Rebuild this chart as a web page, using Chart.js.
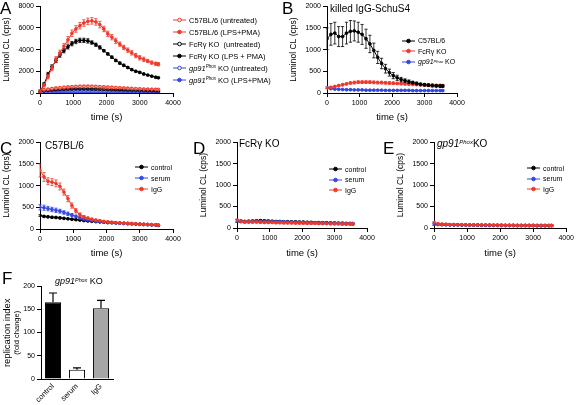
<!DOCTYPE html>
<html>
<head>
<meta charset="utf-8">
<script src="https://cdn.jsdelivr.net/npm/chart.js@4.4.1/dist/chart.umd.min.js"></script>
<style>
body { margin: 0; background: #fff; }
#wrap { position: relative; width: 576px; height: 405px; overflow: hidden; font-family: "Liberation Sans", Arial, sans-serif; color: #000; }
canvas { position: absolute; }
.txt { position: absolute; white-space: nowrap; line-height: 1; }
.letter { font-size: 17px; }
.rot { transform: rotate(-90deg); width: 100px; text-align: center; }
.lg { position: absolute; height: 10px; display: flex; align-items: center; white-space: nowrap; }
.lg svg { margin-right: 3px; }
.sup { font-size: 0.6em; font-style: italic; position: relative; top: -0.45em; }
</style>
</head>
<body>
<div id="wrap">
  <canvas id="chartA" width="185" height="125" style="left:0;top:0"></canvas>
  <canvas id="chartB" width="180" height="125" style="left:287px;top:0"></canvas>
  <canvas id="chartC" width="185" height="125" style="left:0;top:136px"></canvas>
  <canvas id="chartD" width="183" height="125" style="left:197px;top:136px"></canvas>
  <canvas id="chartE" width="182" height="125" style="left:394px;top:136px"></canvas>
  <canvas id="chartF" width="120" height="129" style="left:0;top:276px"></canvas>

  <div class="txt letter" style="left:0;top:0">A</div>
  <div class="txt letter" style="left:282px;top:0">B</div>
  <div class="txt letter" style="left:0;top:140px">C</div>
  <div class="txt letter" style="left:193px;top:140px">D</div>
  <div class="txt letter" style="left:383px;top:140px">E</div>
  <div class="txt letter" style="left:2px;top:270px">F</div>

  <div class="txt" style="left:330px;top:4px;font-size:10px">killed IgG-SchuS4</div>
  <div class="txt" style="left:45px;top:141px;font-size:10px">C57BL/6</div>
  <div class="txt" style="left:239px;top:139px;font-size:10px">FcRγ KO</div>
  <div class="txt" style="left:437px;top:139px;font-size:10px"><i>gp91</i><span class="sup">Phox</span>KO</div>
  <div class="txt" style="left:55px;top:277px;font-size:9px"><i>gp91</i><span class="sup">Phox</span> KO</div>

  <div class="txt rot" style="left:-43px;top:328px;font-size:9.5px">replication index</div>
  <div class="txt rot" style="left:-33px;top:329px;font-size:7.5px">(fold change)</div>
</div>

<script>
// time points (s)
var times = [0,120,240,360,480,600,720,840,960,1080,1200,1320,1440,1560,1680,1800,1920,2040,2160,2280,2400,2520,2640,2760,2880,3000,3120,3240,3360,3480,3560];

// panel A
var aC57Lps    = [100,700,1500,2300,3100,3700,4300,4900,5500,5900,6200,6450,6600,6650,6550,6300,5900,5450,5150,4800,4500,4200,3950,3700,3450,3250,3100,2950,2800,2700,2650];
var aC57LpsErr = [50,150,200,250,250,250,250,300,300,300,300,300,300,300,300,300,250,250,250,250,200,200,200,200,200,200,200,150,150,150,150];
var aFcLps     = [100,800,1700,2400,3000,3500,3900,4250,4550,4750,4850,4850,4800,4650,4450,4200,3900,3600,3300,3000,2750,2550,2350,2150,2000,1900,1750,1650,1550,1450,1400];
var aFcLpsErr  = [50,150,200,200,200,200,200,200,200,200,200,200,200,150,150,150,100,100,100,100,100,100,80,80,80,80,80,60,60,60,60];
var aC57Un     = [250,300,350,400,450,480,520,550,580,600,610,620,620,610,600,580,560,540,520,500,480,460,440,420,400,390,370,360,350,340,330];
var aC57UnErr  = [60,80,80,100,100,100,100,100,100,100,100,100,100,100,100,100,100,100,100,100,80,80,80,80,80,80,60,60,60,60,60];
var aFcUn      = [150,200,250,280,300,320,340,360,370,380,380,380,370,360,350,340,330,310,300,290,280,270,260,250,240,230,220,210,200,200,190];
var aFcUnErr   = [40,50,50,60,60,60,60,60,60,60,60,60,60,60,60,60,60,60,50,50,50,50,50,50,50,40,40,40,40,40,40];
var aGpUn      = [200,190,185,180,180,175,175,170,170,165,165,160,160,160,155,155,150,150,150,145,145,140,140,140,135,135,135,130,130,130,130];
var aGpUnErr   = [80,80,80,80,80,80,80,80,80,80,80,80,80,80,80,80,80,80,80,80,80,80,80,80,80,80,80,80,80,80,80];
var aGpLps     = [120,110,105,100,100,100,95,95,95,90,90,90,90,90,85,85,85,85,85,80,80,80,80,80,80,75,75,75,75,75,75];
var aLabels = ['C57BL/6 (untreated)', 'C57BL/6 (LPS+PMA)', 'FcRγ KO&nbsp; (untreated)', 'FcRγ KO (LPS + PMA)',
               '<i>gp91</i><span class="sup">Phox</span> KO (untreated)', '<i>gp91</i><span class="sup">Phox</span> KO (LPS+PMA)'];

// panel B
var bC57    = [1250,1350,1380,1300,1300,1380,1420,1430,1400,1350,1250,1130,980,820,680,560,470,400,350,310,285,260,240,220,200,190,180,170,165,160,160];
var bC57Err = [250,250,250,230,230,250,250,230,230,230,220,200,170,140,120,100,80,70,60,50,40,40,30,30,30,30,30,30,30,30,30];
var bFc     = [120,130,150,170,190,210,230,240,250,250,250,250,245,240,240,235,230,225,220,215,210,205,200,195,190,185,180,180,175,175,170];
var bFcErr  = [20,20,20,20,25,25,25,30,30,30,30,30,30,30,30,30,30,30,25,25,25,25,25,25,25,25,25,25,25,25,25];
var bGp     = [120,100,90,85,80,75,75,70,70,70,65,65,65,65,65,60,60,60,60,60,60,60,55,55,55,55,55,55,55,55,55];
var bGpErr  = [20,15,15,15,15,15,15,15,15,15,15,15,15,15,15,15,15,15,15,15,15,15,15,15,15,15,15,15,15,15,15];
var bLabels = ['C57BL/6', 'FcRγ KO', '<i>gp91</i><span class="sup">Phox</span> KO'];

// panel C
var cIgG        = [1350,1200,1100,1080,1050,980,850,700,540,420,330,280,250,225,205,190,175,165,155,145,140,135,130,125,120,115,110,105,100,95,90];
var cIgGErr     = [150,100,80,80,80,80,70,70,60,50,40,30,25,20,20,20,15,15,15,15,15,15,15,15,15,15,15,15,15,15,15];
var cSerum      = [500,490,470,450,430,410,380,350,320,290,260,230,210,195,180,170,160,150,145,140,135,130,125,120,115,110,105,100,95,95,90];
var cSerumErr   = [60,60,50,50,50,45,40,40,35,30,30,25,20,20,20,15,15,15,15,15,15,15,15,15,15,15,15,15,15,15,15];
var cControl    = [310,290,280,270,265,255,245,235,225,215,205,195,185,178,170,163,157,150,145,140,135,130,125,120,115,110,105,100,95,90,85];
var cControlErr = [20,20,20,20,20,20,15,15,15,15,15,15,15,15,15,15,15,15,15,15,10,10,10,10,10,10,10,10,10,10,10];
var treatLabels = ['control', 'serum', 'IgG'];

// panel D
var dControl = [160,155,150,155,160,165,170,165,160,155,150,150,145,145,140,140,135,135,130,130,125,125,120,120,115,115,110,110,105,105,100];
var dSerum   = [170,160,150,150,150,155,150,150,145,145,140,140,140,135,135,130,130,125,125,120,120,115,115,110,110,105,105,100,100,100,100];
var dIgG     = [180,150,140,140,140,140,135,130,130,130,125,125,120,120,120,115,115,115,110,110,110,105,105,105,100,100,100,95,95,95,95];
var dErr     = [30,25,25,25,25,25,25,25,25,25,25,25,25,25,25,25,25,25,25,25,25,25,25,25,25,25,25,25,25,25,25];

// panel E
var eControl = [90,85,80,80,75,75,75,70,70,70,70,70,65,65,65,65,65,65,60,60,60,60,60,60,60,60,55,55,55,55,55];
var eSerum   = [95,85,80,75,75,70,70,70,70,65,65,65,65,65,60,60,60,60,60,60,60,55,55,55,55,55,55,55,55,55,55];
var eIgG     = [130,100,90,85,80,80,75,75,75,70,70,70,70,70,70,65,65,65,65,65,65,60,60,60,60,60,60,60,60,60,60];
var eErr     = [25,15,15,15,15,15,15,15,15,15,15,15,15,15,15,15,15,15,15,15,15,15,15,15,15,15,15,15,15,15,15];

// panel F
var fCategories = ['control', 'serum', 'IgG'];
var fValues = [165, 20, 152];
var fErrors = [20, 4, 17];

var RED = '#ee3a2c', BLUE = '#3548e0', BLACK = '#000000';
var FONT = '"Liberation Sans", Arial, sans-serif';

// draws error bars from dataset.errors through the y scale
var errorBars = {
    id: 'errorBars',
    afterDatasetDraw: function(chart, args) {
        var ds = chart.data.datasets[args.index];
        if (!ds.errors) return;
        var y = chart.scales.y, ctx = chart.ctx;
        var cap = ds.capWidth || 1.6;
        ctx.save();
        ctx.strokeStyle = ds.errorColor || ds.borderColor;
        ctx.lineWidth = ds.errorWidth || 0.8;
        args.meta.data.forEach(function(el, i) {
            var v = ds.data[i];
            if (typeof v === 'object') v = v.y;
            var top = y.getPixelForValue(v + ds.errors[i]);
            var bot = ds.upOnly ? el.y : y.getPixelForValue(v - ds.errors[i]);
            ctx.beginPath();
            ctx.moveTo(el.x, top); ctx.lineTo(el.x, bot);
            ctx.moveTo(el.x - cap, top); ctx.lineTo(el.x + cap, top);
            if (!ds.upOnly) { ctx.moveTo(el.x - cap, bot); ctx.lineTo(el.x + cap, bot); }
            ctx.stroke();
        });
        ctx.restore();
    }
};

function series(values, errors, color, open, order) {
    return {
        data: times.map(function(t, i) { return {x: t, y: values[i]}; }),
        errors: errors,
        borderColor: color,
        backgroundColor: color,
        pointBackgroundColor: open ? '#ffffff' : color,
        pointBorderColor: color,
        pointRadius: 1.4,
        pointBorderWidth: 0.9,
        borderWidth: 1,
        order: order,
        fill: false
    };
}

function axisStyle() {
    return {
        grid: {drawOnChartArea: false, tickLength: 4, color: '#000'},
        border: {color: '#000', width: 1}
    };
}

function lineChart(id, datasets, yMax, yStep, pad, xHeight) {
    var x = axisStyle(), y = axisStyle();
    x.type = 'linear'; x.min = 0; x.max = 4000;
    x.ticks = {stepSize: 1000, maxRotation: 0, padding: 2, color: '#000', font: {family: FONT, size: 7}, callback: function(v) { return v; }};
    x.title = {display: true, text: 'time (s)', color: '#000', font: {family: FONT, size: 9.5}, padding: {top: 2, bottom: 2}};
    x.afterFit = function(s) { s.height = xHeight; };
    y.min = 0; y.max = yMax;
    y.ticks = {stepSize: yStep, padding: 2, color: '#000', font: {family: FONT, size: 7}, callback: function(v) { return v; }};
    y.title = {display: true, text: 'Luminol CL (cps)', color: '#000', font: {family: FONT, size: 8.5}, padding: {top: 2, bottom: 1}};
    y.afterFit = function(s) { s.width = 40; };
    return new Chart(document.getElementById(id), {
        type: 'line',
        data: {datasets: datasets},
        options: {
            responsive: false,
            animation: false,
            layout: {padding: pad},
            plugins: {legend: {display: false}, tooltip: {enabled: false}},
            scales: {x: x, y: y}
        },
        plugins: [errorBars]
    });
}

function legend(left, top, gap, labels, colors, open, size) {
    var html = '';
    for (var i = 0; i < labels.length; i++) {
        html += '<div class="lg" style="left:' + left + 'px;top:' + (top + i * gap - 5) + 'px;font-size:' + size + 'px">' +
            '<svg width="13" height="8"><line x1="0" y1="4" x2="13" y2="4" stroke="' + colors[i] + '" stroke-width="1"/>' +
            '<circle cx="6.5" cy="4" r="1.8" fill="' + (open[i] ? '#fff' : colors[i]) + '" stroke="' + colors[i] + '" stroke-width="1"/></svg>' +
            '<span>' + labels[i] + '</span></div>';
    }
    document.getElementById('wrap').insertAdjacentHTML('beforeend', html);
}

lineChart('chartA', [
    series(aC57Lps, aC57LpsErr, RED, false, 1),
    series(aFcLps, aFcLpsErr, BLACK, false, 2),
    series(aC57Un, aC57UnErr, RED, true, 3),
    series(aFcUn, aFcUnErr, BLACK, true, 4),
    series(aGpUn, aGpUnErr, BLUE, true, 5),
    series(aGpLps, null, BLUE, false, 6)
], 8000, 2000, {top: 4, right: 12, left: 0, bottom: 0}, 32);

lineChart('chartB', [
    series(bC57, bC57Err, BLACK, false, 1),
    series(bFc, bFcErr, RED, false, 2),
    series(bGp, bGpErr, BLUE, false, 3)
], 2000, 500, {top: 6, right: 10, left: 0, bottom: 0}, 32);

lineChart('chartC', [
    series(cIgG, cIgGErr, RED, false, 1),
    series(cSerum, cSerumErr, BLUE, false, 2),
    series(cControl, cControlErr, BLACK, false, 3)
], 2000, 500, {top: 5, right: 12, left: 0, bottom: 0}, 32);

lineChart('chartD', [
    series(dIgG, dErr, RED, false, 1),
    series(dSerum, dErr, BLUE, false, 2),
    series(dControl, dErr, BLACK, false, 3)
], 2000, 500, {top: 5, right: 13, left: 0, bottom: 0}, 33);

lineChart('chartE', [
    series(eIgG, eErr, RED, false, 1),
    series(eSerum, eErr, BLUE, false, 2),
    series(eControl, eErr, BLACK, false, 3)
], 2000, 500, {top: 5, right: 8, left: 0, bottom: 0}, 33);

legend(173, 20, 12, aLabels, [RED, RED, BLACK, BLACK, BLUE, BLUE], [true, false, true, false, true, false], 7.5);
legend(402, 40.5, 10.7, bLabels, [BLACK, RED, BLUE], [false, false, false], 7);
legend(135, 167, 11, treatLabels, [BLACK, BLUE, RED], [false, false, false], 7);
legend(329, 169, 10.5, treatLabels, [BLACK, BLUE, RED], [false, false, false], 7);
legend(527, 168, 10.5, treatLabels, [BLACK, BLUE, RED], [false, false, false], 7);

// panel F bar chart
var fx = axisStyle(), fy = axisStyle();
fx.grid = {display: true, drawOnChartArea: false, drawTicks: false, color: '#000'};
fx.ticks = {minRotation: 45, maxRotation: 45, padding: 3, color: '#000', font: {family: FONT, size: 7.5}};
fx.afterFit = function(s) { s.height = 26; };
fy.min = 0; fy.max = 200;
fy.ticks = {stepSize: 50, padding: 2, color: '#000', font: {family: FONT, size: 7}};
fy.afterFit = function(s) { s.width = 41; };

new Chart(document.getElementById('chartF'), {
    type: 'bar',
    data: {
        labels: fCategories,
        datasets: [{
            data: fValues,
            errors: fErrors,
            upOnly: true,
            capWidth: 4,
            errorWidth: 1.2,
            errorColor: '#000',
            backgroundColor: ['#000000', '#ffffff', '#a6a6a6'],
            borderColor: '#000000',
            borderWidth: 1,
            categoryPercentage: 1,
            barPercentage: 0.67
        }]
    },
    options: {
        responsive: false,
        animation: false,
        layout: {padding: {top: 10, right: 7, left: 0, bottom: 0}},
        plugins: {legend: {display: false}, tooltip: {enabled: false}},
        scales: {x: fx, y: fy}
    },
    plugins: [errorBars]
});
</script>
</body>
</html>
